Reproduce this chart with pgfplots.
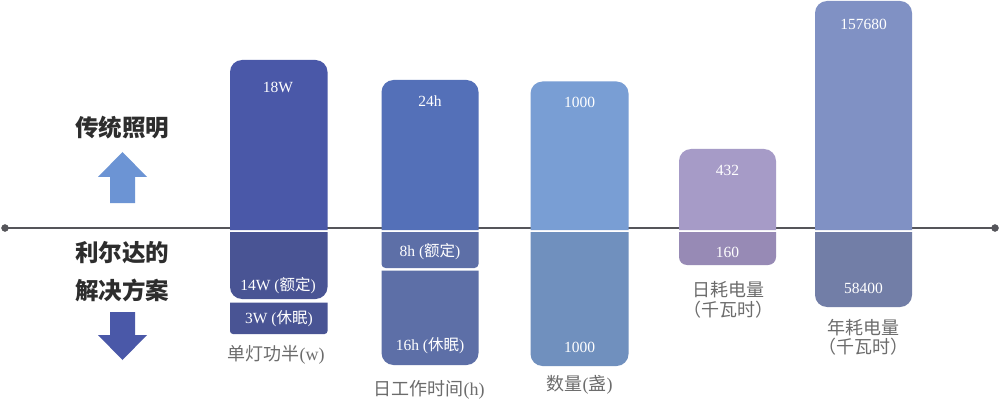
\documentclass[border=0pt]{standalone}
\usepackage{fontspec}
\setmainfont{Liberation Serif}
\newfontfamily\cjk{Noto Sans CJK SC}
\usepackage{pgfplots}
\pgfplotsset{compat=1.18}

\definecolor{upA}{RGB}{74,88,168}
\definecolor{loA}{RGB}{73,84,148}
\definecolor{upB}{RGB}{84,112,184}
\definecolor{loB}{RGB}{93,111,167}
\definecolor{upC}{RGB}{121,158,212}
\definecolor{loC}{RGB}{112,144,190}
\definecolor{upD}{RGB}{166,155,199}
\definecolor{loD}{RGB}{151,138,181}
\definecolor{upE}{RGB}{128,145,196}
\definecolor{loE}{RGB}{114,126,167}
\definecolor{arrUp}{RGB}{108,148,212}
\definecolor{arrDn}{RGB}{74,88,168}
\definecolor{lineGray}{RGB}{85,85,90}
\definecolor{titleGray}{RGB}{45,45,45}
\definecolor{catGray}{RGB}{108,108,108}

\newcommand{\valfont}{\fontsize{15.5}{18}\selectfont}
\newcommand{\catfont}{\fontsize{18}{21}\selectfont}

% bars are open outlines: the two end points stay square, the others get rounded
\pgfplotsset{
    bar/.style={draw=none, mark=none, rounded corners=#1},
    bar/.default=12pt,
    labels/.style={draw=none, mark=none, point meta=explicit symbolic,
        nodes near coords, every node near coord/.append style={
            font=\valfont, text=white, anchor=center}},
}

\begin{document}
\begin{tikzpicture}
% 1 unit = 1pt = 1 px of the reference, y measured from the bottom
\begin{axis}[
    scale only axis, width=1000pt, height=402pt,
    xmin=0, xmax=1000, ymin=0, ymax=402,
    axis lines=none, ticks=none, clip=false,
    axis background/.style={fill=white},
]
\addplot[lineGray, line width=1.3pt] coordinates {(5,174) (995,174)};
\addplot[only marks, mark=*, mark size=3.5pt, lineGray] coordinates {(5,174) (995,174)};
\addplot[fill=arrUp, draw=none] coordinates {
    (110,199) (135,199) (135,225) (147,225) (122.5,250) (98,225) (110,225)};
\addplot[fill=arrDn, draw=none] coordinates {
    (110,90) (135,90) (135,67) (147,67) (122.5,42) (98,67) (110,67)};

% traditional lighting (above the line)
\addplot[bar, fill=upA] coordinates {(230,172) (230,342) (327.5,342) (327.5,172)};
\addplot[bar, fill=upB] coordinates {(381.5,172) (381.5,322) (478.5,322) (478.5,172)};
\addplot[bar, fill=upC] coordinates {(530.5,172) (530.5,320.5) (628.5,320.5) (628.5,172)};
\addplot[bar, fill=upD] coordinates {(679,172) (679,253) (776,253) (776,172)};
\addplot[bar, fill=upE] coordinates {(815,172) (815,401) (912,401) (912,172)};

% Lierda solution (below the line)
\addplot[bar, fill=loA] coordinates {(230,170) (230,103) (327.5,103) (327.5,170)};
\addplot[bar=3pt, fill=loA] coordinates {(230,99.3) (230,68) (327.5,68) (327.5,99.3)};
\addplot[bar=4pt, fill=loB] coordinates {(381.5,170) (381.5,134) (478.5,134) (478.5,170)};
\addplot[bar, fill=loB] coordinates {(381.5,131.3) (381.5,37) (478.5,37) (478.5,131.3)};
\addplot[bar, fill=loC] coordinates {(530.5,170) (530.5,36) (628.5,36) (628.5,170)};
\addplot[bar=8pt, fill=loD] coordinates {(679,170) (679,137) (776,137) (776,170)};
\addplot[bar, fill=loE] coordinates {(815,170) (815,95) (912,95) (912,170)};

% value labels
\addplot[labels] coordinates {
    (278,315) [18W] (430,301) [24h] (579.5,300) [1000]
    (727.5,232) [432] (863.5,378) [157680]};
\addplot[labels] coordinates {
    (278,116) [{14W ({\cjk 额定})}] (279,83) [{3W ({\cjk 休眠})}]
    (430,150) [{8h ({\cjk 额定})}] (430,56) [{16h ({\cjk 休眠})}]
    (579.5,55) [1000] (727.5,150) [160] (863.5,114) [58400]};

\node[text=titleGray, font=\cjk\bfseries\fontsize{23.5}{26}\selectfont] at (axis cs:122,274) {传统照明};
\node[text=titleGray, font=\cjk\bfseries\fontsize{23.5}{26}\selectfont] at (axis cs:122,149) {利尔达的};
\node[text=titleGray, font=\cjk\bfseries\fontsize{23.5}{26}\selectfont] at (axis cs:122,112) {解决方案};

\node[text=catGray, font=\catfont] at (axis cs:276,47) {{\cjk 单灯功半}(w)};
\node[text=catGray, font=\catfont] at (axis cs:429,12) {{\cjk 日工作时间}(h)};
\node[text=catGray, font=\catfont] at (axis cs:579.5,17) {{\cjk 数量}({\cjk 盏})};
\node[text=catGray, font=\cjk\catfont] at (axis cs:728.5,112) {日耗电量};
\node[text=catGray, font=\cjk\catfont] at (axis cs:728.5,92) {（千瓦时）};
\node[text=catGray, font=\cjk\catfont] at (axis cs:863.5,74) {年耗电量};
\node[text=catGray, font=\cjk\catfont] at (axis cs:863.5,55) {（千瓦时）};
\end{axis}
\end{tikzpicture}
\end{document}
